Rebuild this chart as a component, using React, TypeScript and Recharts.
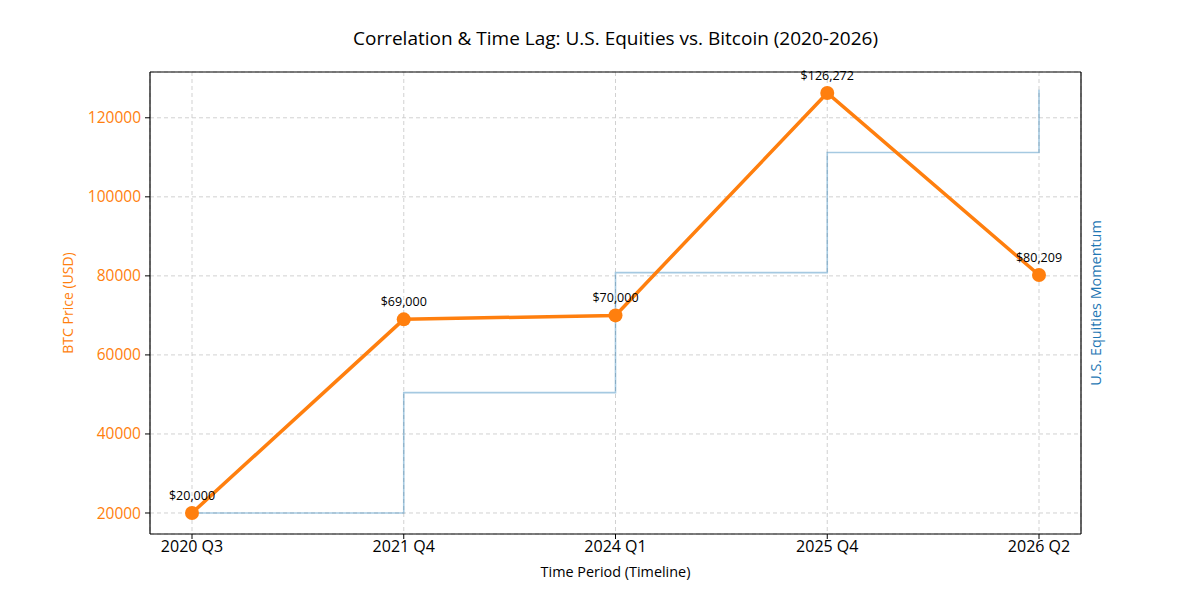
import React from "react";
import { LineChart, Line, XAxis, YAxis, CartesianGrid, LabelList, ReferenceLine } from "recharts";

const periods = ["2020 Q3", "2021 Q4", "2024 Q1", "2025 Q4", "2026 Q2"];
const btcPrice = [20000, 69000, 70000, 126272, 80209];
const equitiesMomentum = [20000, 50450, 80830, 111200, 127100];
const priceTicks = [20000, 40000, 60000, 80000, 100000, 120000];

const yDomain = [14686, 131586];

const data = periods.map((period, i) => ({
  period,
  btc: btcPrice[i],
  equities: equitiesMomentum[i],
}));

const FONT = "'Open Sans', Roboto, sans-serif";
const ORANGE = "#ff7f0e";
const BLUE = "#1f77b4";

const fmtUsd = (v: number) => "$" + v.toLocaleString("en-US");

export default function App() {
  return (
    <div style={{ position: "absolute", left: 0, top: 0, width: 1200, height: 600, background: "#fff", fontFamily: FONT }}>
      <div
        style={{
          position: "absolute",
          left: 150,
          width: 931,
          top: 25,
          textAlign: "center",
          fontSize: 19,
          color: "#000",
        }}
      >
        Correlation &amp; Time Lag: U.S. Equities vs. Bitcoin (2020-2026)
      </div>
      <LineChart width={1200} height={600} data={data} margin={{ top: 72, right: 0, bottom: 0, left: 0 }}>
        <CartesianGrid yAxisId="left" stroke="#cccccc" strokeWidth={0.9} strokeDasharray="4 3" />
        <XAxis
          dataKey="period"
          type="category"
          height={66}
          padding={{ left: 42, right: 42 }}
          axisLine={{ stroke: "#000", strokeWidth: 1.2 }}
          tickLine={{ stroke: "#000" }}
          tickSize={5}
          tick={{ fill: "#000", fontSize: 16, fontFamily: FONT }}
          tickMargin={2}
          label={{ value: "Time Period (Timeline)", position: "insideBottom", offset: 23, fill: "#000", fontSize: 14.4, fontFamily: FONT }}
        />
        <YAxis
          yAxisId="left"
          width={150}
          domain={yDomain}
          ticks={priceTicks}
          allowDataOverflow
          axisLine={{ stroke: "#000", strokeWidth: 1.2 }}
          tickLine={{ stroke: "#000" }}
          tickSize={5}
          tickMargin={4}
          tick={{ fill: ORANGE, fontSize: 15.5, fontFamily: FONT }}
          label={{
            content: (props: any) => {
              const vb = props.viewBox;
              const x = 67;
              const y = vb.y + vb.height / 2;
              return (
                <text x={x} y={y} transform={`rotate(-90, ${x}, ${y})`} textAnchor="middle" dominantBaseline="central" fill={ORANGE} fontSize={14} fontFamily={FONT}>
                  BTC Price (USD)
                </text>
              );
            },
          }}
        />
        <YAxis
          yAxisId="right"
          orientation="right"
          width={119}
          domain={yDomain}
          allowDataOverflow
          axisLine={{ stroke: "#000", strokeWidth: 1.2 }}
          tick={false}
          tickLine={false}
          label={{
            content: (props: any) => {
              const vb = props.viewBox;
              const x = vb.x + 14;
              const y = vb.y + vb.height / 2;
              return (
                <text x={x} y={y} transform={`rotate(-90, ${x}, ${y})`} textAnchor="middle" dominantBaseline="central" fill={BLUE} fontSize={14.4} fontFamily={FONT}>
                  U.S. Equities Momentum
                </text>
              );
            },
          }}
        />
        <ReferenceLine yAxisId="left" y={yDomain[1]} stroke="#000" strokeWidth={1.2} />
        <Line
          yAxisId="right"
          dataKey="equities"
          type="stepAfter"
          stroke={BLUE}
          strokeOpacity={0.4}
          strokeWidth={1.6}
          dot={false}
          activeDot={false}
          isAnimationActive={false}
        />
        <Line
          yAxisId="left"
          dataKey="btc"
          type="linear"
          stroke={ORANGE}
          strokeWidth={3.5}
          dot={{ r: 7, fill: ORANGE, stroke: ORANGE, strokeWidth: 0 }}
          activeDot={false}
          isAnimationActive={false}
        >
          <LabelList dataKey="btc" position="top" offset={13} formatter={(v: any) => fmtUsd(Number(v))} fill="#000" fontSize={12.5} fontFamily={FONT} />
        </Line>
      </LineChart>
    </div>
  );
}
